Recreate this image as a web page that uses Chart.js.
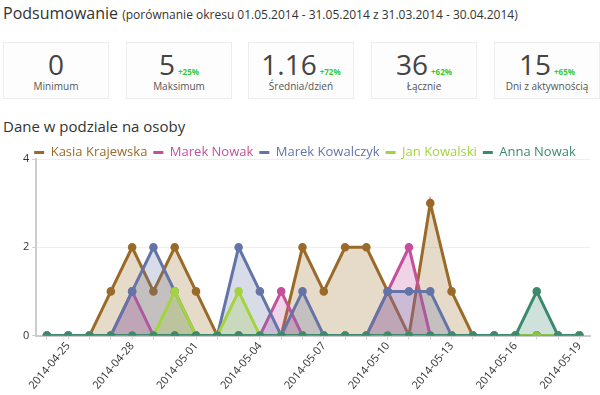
<!DOCTYPE html>
<html>
<head>
<meta charset="utf-8">
<script src="https://cdn.jsdelivr.net/npm/chart.js@4.4.0/dist/chart.umd.min.js"></script>
<style>
  body { margin: 0; width: 600px; height: 395px; background: #fff; font-family: "Open Sans", sans-serif; color: #333; position: relative; overflow: hidden; }
  .title { position: absolute; left: 3px; top: 2px; font-size: 16px; }
  .title small { font-size: 12px; }
  .box { position: absolute; top: 42px; width: 104px; height: 55px; border: 1px solid #ececec; background: #fdfdfd; text-align: center; }
  .num { font-size: 28px; line-height: 26px; margin-top: 8px; color: #444; }
  .num span { font-size: 8px; line-height: 0; color: #3c3; font-weight: bold; margin-left: 3px; }
  .lbl { font-size: 10px; color: #555; margin-top: 2px; }
  .sub { position: absolute; left: 3px; top: 116px; font-size: 15px; }
  #wrap { position: absolute; left: 0; top: 140px; width: 600px; height: 252px; }
</style>
</head>
<body>
<div class="title">Podsumowanie <small>(porównanie okresu 01.05.2014 - 31.05.2014 z 31.03.2014 - 30.04.2014)</small></div>
<div id="boxes"></div>
<div class="sub">Dane w podziale na osoby</div>
<div id="wrap"><canvas id="chart"></canvas></div>
<script>
// --- DATA ---
const days = ["2014-04-24", "2014-04-25", "2014-04-26", "2014-04-27", "2014-04-28", "2014-04-29", "2014-04-30",
  "2014-05-01", "2014-05-02", "2014-05-03", "2014-05-04", "2014-05-05", "2014-05-06", "2014-05-07",
  "2014-05-08", "2014-05-09", "2014-05-10", "2014-05-11", "2014-05-12", "2014-05-13", "2014-05-14",
  "2014-05-15", "2014-05-16", "2014-05-17", "2014-05-18", "2014-05-19"];
const people = ["Kasia Krajewska", "Marek Nowak", "Marek Kowalczyk", "Jan Kowalski", "Anna Nowak"];
const kasia = [0, 0, 0, 1, 2, 1, 2, 1, 0, 0, 0, 0, 2, 1, 2, 2, 1, 0, 3, 1, 0, 0, 0, 0, 0, 0];
const marekN = [0, 0, 0, 0, 1, 0, 0, 0, 0, 0, 0, 1, 0, 0, 0, 0, 1, 2, 0, 0, 0, 0, 0, 0, 0, 0];
const marekK = [0, 0, 0, 0, 1, 2, 1, 0, 0, 2, 1, 0, 1, 0, 0, 0, 1, 1, 1, 0, 0, 0, 0, 0, 0, 0];
const jan = [0, 0, 0, 0, 0, 0, 1, 0, 0, 1, 0, 0, 0, 0, 0, 0, 0, 0, 0, 0, 0, 0, 0, 0, 0, 0];
const anna = [0, 0, 0, 0, 0, 0, 0, 0, 0, 0, 0, 0, 0, 0, 0, 0, 0, 0, 0, 0, 0, 0, 0, 1, 0, 0];
const yTicks = [0, 2, 4];

const statValues = ["0", "5", "1.16", "36", "15"];
const statChange = ["", "+25%", "+72%", "+62%", "+65%"];
const statLabels = ["Minimum", "Maksimum", "Średnia/dzień", "Łącznie", "Dni z aktywnością"];
const boxLeft = [3, 126, 248, 371, 494];

// --- SUMMARY BOXES ---
document.getElementById("boxes").innerHTML = statValues.map((v, i) =>
  `<div class="box" style="left:${boxLeft[i]}px">
     <div class="num">${v}${statChange[i] ? `<span>${statChange[i]}</span>` : ""}</div>
     <div class="lbl">${statLabels[i]}</div>
   </div>`).join("");

// --- CHART ---
const lineColors = ["#9a6a28", "#c4509c", "#6474a8", "#a4d43c", "#3c8a6e"];
const fillColors = ["rgba(154,106,40,0.25)", "rgba(196,80,156,0.25)", "rgba(100,116,168,0.25)",
  "rgba(164,212,60,0.25)", "rgba(60,138,110,0.25)"];
const series = [kasia, marekN, marekK, jan, anna];

// pull the plot a bit closer to the legend
const tightLegend = {
  id: "tightLegend",
  beforeInit(chart) {
    const fit = chart.legend.fit;
    chart.legend.fit = function () {
      fit.call(this);
      this.height -= 10;
    };
  }
};

const ctx = document.getElementById("chart").getContext("2d");
new Chart(ctx, {
  type: "line",
  data: {
    labels: days,
    datasets: series.map((s, i) => ({
      label: people[i],
      data: s,
      borderColor: lineColors[i],
      backgroundColor: fillColors[i],
      pointBackgroundColor: lineColors[i],
      pointBorderColor: lineColors[i],
      pointRadius: 2.8,
      borderWidth: 3,
      fill: "origin",
      tension: 0,
      order: series.length - i
    }))
  },
  plugins: [tightLegend],
  options: {
    responsive: true,
    maintainAspectRatio: false,
    animation: false,
    layout: { padding: { left: 20, right: 10, top: 0, bottom: 0 } },
    plugins: {
      tooltip: { enabled: false },
      legend: {
        labels: {
          usePointStyle: true,
          pointStyle: "line",
          pointStyleWidth: 10,
          boxWidth: 10,
          padding: 6,
          font: { family: "Open Sans", size: 13 },
          generateLabels(chart) {
            return chart.data.datasets.map((d, i) => ({
              text: d.label,
              fontColor: lineColors[i],
              strokeStyle: lineColors[i],
              fillStyle: lineColors[i],
              lineWidth: 3,
              pointStyle: "line",
              datasetIndex: i
            }));
          }
        }
      }
    },
    scales: {
      x: {
        offset: true,
        grid: { display: true, offset: false, drawOnChartArea: false, tickLength: 4, tickColor: "#c8d8cc" },
        border: { color: "#ccc", width: 2 },
        ticks: {
          autoSkip: false,
          maxRotation: 50,
          minRotation: 50,
          padding: 0,
          color: "#333",
          font: { family: "Open Sans", size: 11 },
          callback: (v, i) => (i % 3 === 1 ? days[i] : "")
        }
      },
      y: {
        min: yTicks[0],
        max: yTicks[yTicks.length - 1],
        afterBuildTicks: axis => { axis.ticks = yTicks.map(v => ({ value: v })); },
        grid: { color: "#eee", tickColor: "#ccc", tickLength: 4 },
        border: { color: "#ccc", width: 2 },
        ticks: { color: "#333", font: { family: "Open Sans", size: 11 }, padding: 3 }
      }
    }
  }
});
</script>
</body>
</html>
